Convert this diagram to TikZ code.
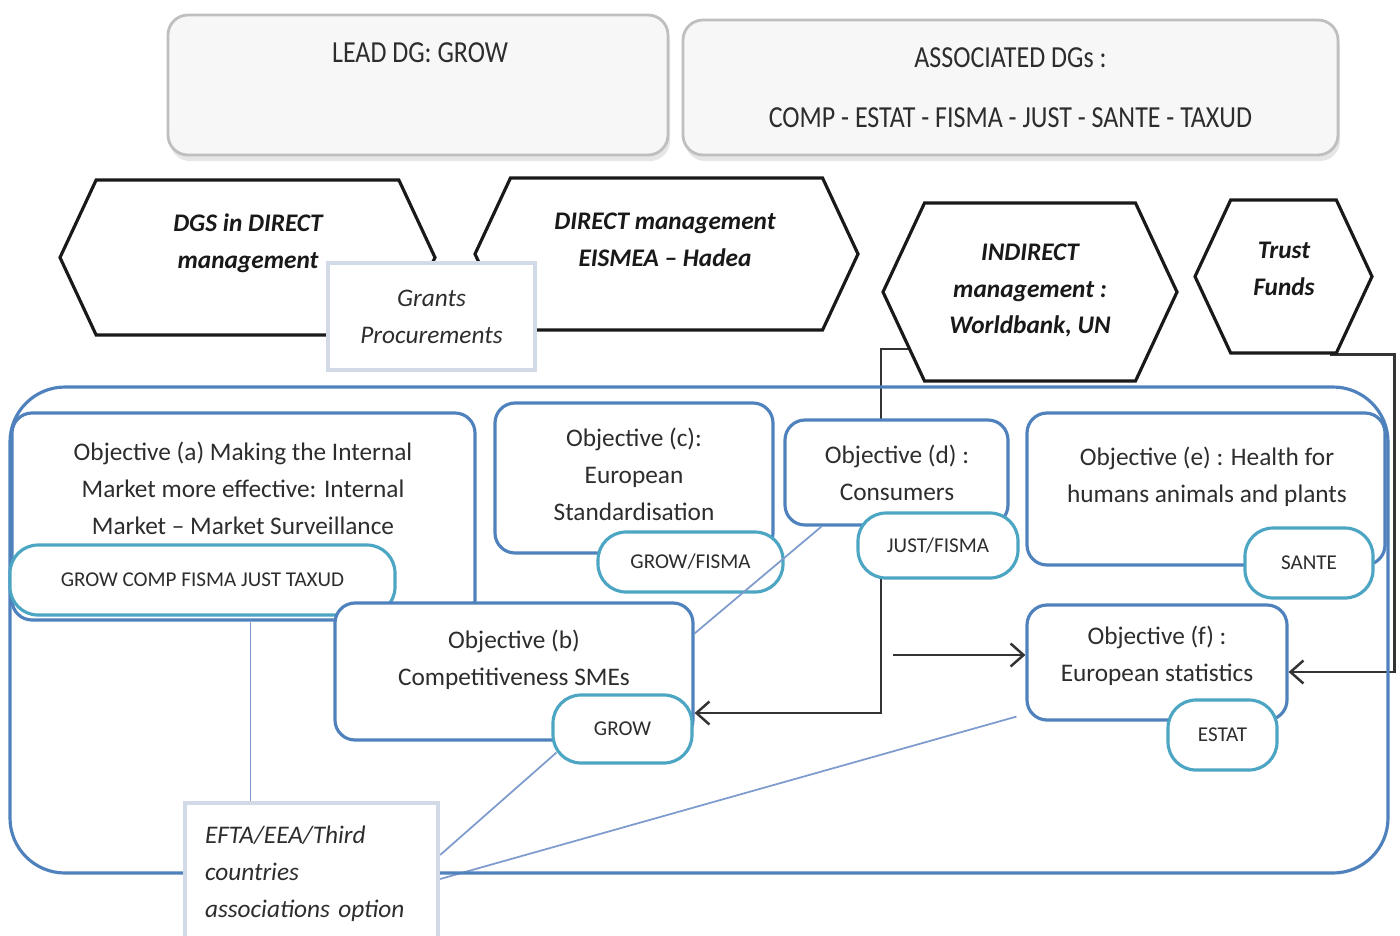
\documentclass[tikz,border=0pt]{standalone}
\usepackage{fontspec}
\setmainfont{Carlito}
\newfontfamily\narrowfont[FakeStretch=0.85]{Carlito}
\usepackage{tikz}
\usetikzlibrary{arrows.meta, positioning, shapes.symbols, shadows, backgrounds}

\definecolor{objblue}{RGB}{79, 129, 189}
\definecolor{pillteal}{RGB}{75, 165, 195}
\definecolor{linkblue}{RGB}{125, 155, 205}
\definecolor{framegrey}{RGB}{210, 218, 232}
\definecolor{txtgrey}{RGB}{45, 45, 45}

\begin{document}
\begin{tikzpicture}[
    topbox/.style={draw=gray!50, fill=gray!6, rounded corners=.2cm, line width=.8pt,
                   drop shadow={opacity=.2, shadow xshift=.02cm, shadow yshift=-.06cm},
                   text=txtgrey, align=center,
                   font=\narrowfont\fontsize{8.7}{10.5}\selectfont},
    toplbl/.style={text=txtgrey, font=\narrowfont\fontsize{8.7}{10.5}\selectfont},
    hexa/.style={shape=signal, signal to=west and east, signal pointer angle=130,
                 draw=black!90, line width=.9pt, fill=white},
    hexlbl/.style={align=center, text=black!90,
                   font=\bfseries\itshape\fontsize{7.2}{10.5}\selectfont},
    note/.style={draw=framegrey, line width=1.2pt, fill=white, text=txtgrey,
                 font=\itshape\fontsize{7.2}{10.5}\selectfont},
    obj/.style={draw=objblue, line width=.9pt, rounded corners=.2cm, fill=white},
    objlbl/.style={align=center, text=txtgrey, font=\fontsize{7.2}{10.5}\selectfont},
    dgpill/.style={draw=pillteal, line width=.9pt, rounded corners=.28cm, fill=white,
                   text=txtgrey, font=\fontsize{6}{8}\selectfont},
    arr/.style={-{Straight Barb[length=1.3mm, width=2.3mm]}, line width=.7pt, black!80},
    link/.style={linkblue, line width=.5pt}
  ]
  \useasboundingbox (0,0) rectangle (14,-9.35);

  % lead and associated DGs
  \node[topbox, minimum width=5cm, minimum height=1.4cm] (lead) at (4.18,-.85) {};
  \node[toplbl] (lead-t) at (4.20,-.53) {LEAD DG: GROW};
  \node[topbox, minimum width=6.55cm, minimum height=1.35cm] (assoc) at (10.105,-.875)
    {ASSOCIATED DGs :\\[.23cm]COMP - ESTAT - FISMA - JUST - SANTE - TAXUD};

  % management modes
  \node[hexa, minimum width=3.75cm, minimum height=1.55cm] (dgs) at (2.475,-2.575) {};
  \node[hexlbl] (dgs-t) at (2.48,-2.435) {DGS in DIRECT\\management};
  \node[hexa, minimum width=3.83cm, minimum height=1.52cm] (eismea) at (6.665,-2.54) {};
  \node[hexlbl] (eismea-t) at (6.65,-2.40) {DIRECT management\\EISMEA – Hadea};
  \node[hexa, minimum width=2.94cm, minimum height=1.78cm] (indirect) at (10.30,-2.92) {};
  \node[hexlbl] (indirect-t) at (10.30,-2.905) {INDIRECT\\management :\\Worldbank, UN};
  \node[hexa, minimum width=1.77cm, minimum height=1.53cm] (trust) at (12.835,-2.765) {};
  \node[hexlbl] (trust-t) at (12.84,-2.685) {Trust\\Funds};
  \node[note, align=center, minimum width=2.07cm, minimum height=1.07cm] (grants)
    at (4.315,-3.165) {Grants\\Procurements};

  % programme frame
  \node[draw=objblue, line width=.9pt, rounded corners=.55cm, minimum width=13.78cm,
        minimum height=4.86cm] (frame) at (6.99,-6.30) {};

  % objectives with their DGs
  \node[obj, minimum width=4.63cm, minimum height=2.07cm] (a) at (2.435,-5.165) {};
  \node[objlbl] (a-t) at (2.43,-4.885)
    {Objective (a) Making the Internal\\Market more effective: Internal\\Market – Market Surveillance};
  \node[dgpill, minimum width=3.85cm, minimum height=.7cm] (pa) at (2.025,-5.80)
    {GROW COMP FISMA JUST TAXUD};

  \node[obj, minimum width=2.78cm, minimum height=1.5cm] (c) at (6.34,-4.78) {};
  \node[objlbl] (c-t) at (6.34,-4.745) {Objective (c):\\European\\Standardisation};
  \node[dgpill, minimum width=1.85cm, minimum height=.6cm] (pc) at (6.905,-5.62) {GROW/FISMA};

  \node[obj, minimum width=2.23cm, minimum height=1.05cm] (d) at (8.965,-4.725) {};
  \node[objlbl] (d-t) at (8.97,-4.73) {Objective (d) :\\Consumers};
  \node[dgpill, minimum width=1.6cm, minimum height=.65cm] (pd) at (9.38,-5.455) {JUST/FISMA};

  \node[obj, minimum width=3.58cm, minimum height=1.52cm] (e) at (12.06,-4.89) {};
  \node[objlbl] (e-t) at (12.07,-4.77) {Objective (e) : Health for\\humans animals and plants};
  \node[dgpill, minimum width=1.28cm, minimum height=.7cm] (pe) at (13.09,-5.63) {SANTE};

  \node[obj, minimum width=3.58cm, minimum height=1.37cm] (b) at (5.14,-6.715) {};
  \node[objlbl] (b-t) at (5.14,-6.595) {Objective (b)\\Competitiveness SMEs};
  \node[dgpill, minimum width=1.39cm, minimum height=.68cm] (pb) at (6.225,-7.29) {GROW};

  \node[obj, minimum width=2.6cm, minimum height=1.15cm] (f) at (11.57,-6.625) {};
  \node[objlbl] (f-t) at (11.57,-6.555) {Objective (f) :\\European statistics};
  \node[dgpill, minimum width=1.09cm, minimum height=.7cm] (pf) at (12.225,-7.35) {ESTAT};

  % association of third countries
  \node[note, align=left, text width=2.13cm, inner xsep=.2cm, minimum height=1.42cm] (efta)
    at (3.115,-8.74) {EFTA/EEA/Third\\countries\\associations option};

  \coordinate (fin) at (8.93,-6.55);

  \draw[link] ([yshift=-.32cm]b.north east) -- ([xshift=.38cm]d.south west);

  \begin{pgfonlayer}{background}
    \draw[arr] ([xshift=.4cm,yshift=-.57cm]indirect.west)
      -| ([yshift=-.415cm]b.east -| indirect.west) -- ([yshift=-.415cm]b.east);
    \draw[arr] ([xshift=.46cm]trust.south) -- ++(.65,0) |- ([yshift=-.095cm]f.east);
    \draw[arr] (fin) -- (fin -| f.west);
    \draw[link] ([xshift=-.61cm]efta.north) -- ([xshift=-.61cm]efta.north |- a.south);
    \draw[link] ([yshift=.19cm]efta.east) -- ([shift={(.05,.12)}]pb.south west);
    \draw[link] ([yshift=-.05cm]efta.east) -- ([shift={(-.09,.05)}]f.south west);
  \end{pgfonlayer}
\end{tikzpicture}
\end{document}
